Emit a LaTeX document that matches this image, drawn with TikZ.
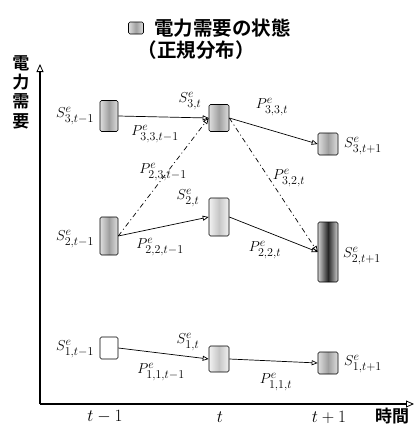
\documentclass[tikz,border=0pt]{standalone}
\usepackage{fontspec}
\DeclareMathSizes{14.4}{14.4}{11.5}{9}
\newfontfamily\cjk{Noto Sans CJK JP}[BoldFont={Noto Sans CJK JP Bold}]
\usetikzlibrary{arrows.meta}
\tikzset{
  st/.style={draw, rounded corners=1.5pt, inner sep=0pt, line width=0.6pt, minimum width=19pt},
  mid/.style={left color=gray!25, right color=gray!25, middle color=gray!75},
  light/.style={left color=gray!10, right color=gray!10, middle color=gray!45},
  dark/.style={left color=gray!35, right color=gray!35, middle color=black!85},
  tr/.style={line width=0.7pt, -{Triangle[open, length=6pt, width=5pt]}},
  dd/.style={tr, dash pattern=on 5pt off 3pt on 1pt off 3pt},
  lab/.style={font=\Large, inner sep=0pt},
  tick/.style={font=\LARGE, inner sep=0pt},
  ax/.style={line width=1.8pt, -{Triangle[open, length=8pt, width=7pt, line width=0.8pt]}},
  jp/.style={font=\cjk\bfseries\fontsize{17}{19}\selectfont, inner sep=0pt},
}
\begin{document}
\begin{tikzpicture}[x=1pt,y=-1pt]
\useasboundingbox (0,0) rectangle (414,426);
% title
\node[st, mid, minimum width=15pt, minimum height=12pt] (icon) at (136,28) {};
\node[jp, font=\cjk\bfseries\fontsize{19.5}{21}\selectfont, anchor=west] (title1) at (154,28) {電力需要の状態};
\node[jp, font=\cjk\bfseries\fontsize{19.5}{21}\selectfont] (title2) at (196,50) {（正規分布）};
% axes
\coordinate (o) at (40,404);
\coordinate (ytop) at (40,64);
\coordinate (xend) at (414,404);
\draw[ax] (o) -- (ytop);
\draw[ax] (o) -- (xend);
\node[jp, align=center, font=\cjk\bfseries\fontsize{17}{19.3}\selectfont] (ylab) at (21,92) {電\\力\\需\\要};
\node[jp] (xlab) at (392,416) {時間};
\node[tick] (t1) at (105,417) {$t-1$};
\node[tick] (t2) at (220,417) {$t$};
\node[tick] (t3) at (329,417) {$t+1$};
% boxes
\node[st, mid, minimum width=18pt, minimum height=31pt] (s3a) at (109,116) {};
\node[st, mid, minimum width=20pt, minimum height=27pt] (s3b) at (219,118) {};
\node[st, mid, minimum width=20pt, minimum height=22pt] (s3c) at (328,144) {};
\node[st, mid, minimum width=18pt, minimum height=38pt] (s2a) at (109,236) {};
\node[st, light, minimum width=20pt, minimum height=38pt] (s2b) at (219,217) {};
\node[st, dark, minimum width=20pt, minimum height=60pt] (s2c) at (328,252) {};
\node[st, fill=white, minimum width=18pt, minimum height=22pt] (s1a) at (109,348) {};
\node[st, light, minimum width=20pt, minimum height=26pt] (s1b) at (219,359) {};
\node[st, mid, minimum width=20pt, minimum height=22pt] (s1c) at (328,363) {};
% connectors
\draw[tr] (s3a.east) -- (s3b.west);
\draw[tr] (s3b.east) -- (s3c.west);
\draw[dd] (s2a.east) -- (s3b.west);
\draw[dd] (s3b.east) -- (s2c.west);
\draw[tr] (s2a.east) -- (s2b.west);
\draw[tr] (s2b.east) -- (s2c.west);
\draw[tr] (s1a.east) -- (s1b.west);
\draw[tr] (s1b.east) -- (s1c.west);
% labels
\node[lab] (ls3a) at (75,116) {$S^{e}_{3,t-1}$};
\node[lab] (ls3b) at (190,101) {$S^{e}_{3,t}$};
\node[lab] (ls3c) at (363,146) {$S^{e}_{3,t+1}$};
\node[lab] (ls2a) at (75,239) {$S^{e}_{2,t-1}$};
\node[lab] (ls2b) at (188,198) {$S^{e}_{2,t}$};
\node[lab] (ls2c) at (362,256) {$S^{e}_{2,t+1}$};
\node[lab] (ls1a) at (75,349) {$S^{e}_{1,t-1}$};
\node[lab] (ls1b) at (188,342) {$S^{e}_{1,t}$};
\node[lab] (ls1c) at (363,364) {$S^{e}_{1,t+1}$};
\node[lab] (lp33a) at (155,134) {$P^{e}_{3,3,t-1}$};
\node[lab] (lp33b) at (272,107) {$P^{e}_{3,3,t}$};
\node[lab] (lp23a) at (163,172) {$P^{e}_{2,3,t-1}$};
\node[lab] (lp32b) at (289,178) {$P^{e}_{3,2,t}$};
\node[lab] (lp22a) at (160,247) {$P^{e}_{2,2,t-1}$};
\node[lab] (lp22b) at (265,250) {$P^{e}_{2,2,t}$};
\node[lab] (lp11a) at (161,372) {$P^{e}_{1,1,t-1}$};
\node[lab] (lp11b) at (276,382) {$P^{e}_{1,1,t}$};
\end{tikzpicture}
\end{document}
